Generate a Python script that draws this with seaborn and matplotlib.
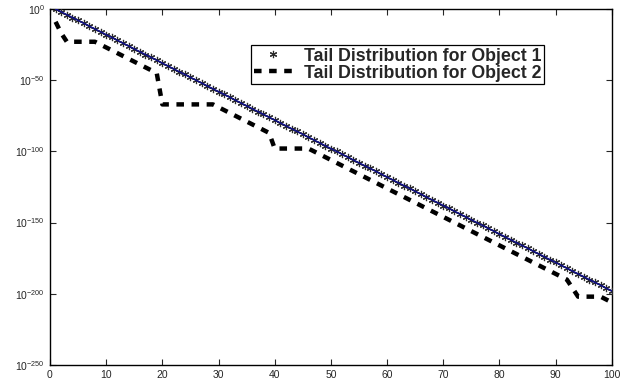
import numpy as np
import matplotlib
matplotlib.use("Agg")
import matplotlib.pyplot as plt
import seaborn as sns
from matplotlib.ticker import FixedLocator, FixedFormatter

# x positions (object size index)
x = list(range(1, 101))

# log10 of tail probability
obj1_exp = [0, -2, -4, -6, -8, -10, -12, -14, -16, -18,
            -20, -22, -24, -26, -28, -30, -32, -34, -36, -38,
            -40, -42, -44, -46, -48, -50, -52, -54, -56, -58,
            -60, -62, -64, -66, -68, -70, -72, -74, -76, -78,
            -80, -82, -84, -86, -88, -90, -92, -94, -96, -98,
            -100, -102, -104, -106, -108, -110, -112, -114, -116, -118,
            -120, -122, -124, -126, -128, -130, -132, -134, -136, -138,
            -140, -142, -144, -146, -148, -150, -152, -154, -156, -158,
            -160, -162, -164, -166, -168, -170, -172, -174, -176, -178,
            -180, -182, -184, -186, -188, -190, -192, -194, -196, -198]

obj2_exp = [-9, -17, -23, -23, -23, -23, -23, -23, -25, -27,
            -29, -31, -33, -35, -37, -39, -41, -43, -45, -67,
            -67, -67, -67, -67, -67, -67, -67, -67, -67, -69,
            -71, -73, -75, -77, -79, -81, -83, -85, -87, -98,
            -98, -98, -98, -98, -98, -98, -100, -102, -104, -106,
            -108, -110, -112, -114, -116, -118, -120, -122, -124, -126,
            -128, -130, -132, -134, -136, -138, -140, -142, -144, -146,
            -148, -150, -152, -154, -156, -158, -160, -162, -164, -166,
            -168, -170, -172, -174, -176, -178, -180, -182, -184, -186,
            -188, -190, -196, -202, -202, -202, -202, -202, -204, -206]

labels = ['Tail Distribution for Object 1', 'Tail Distribution for Object 2']
xticks = [0, 10, 20, 30, 40, 50, 60, 70, 80, 90, 100]
yexp_ticks = [-250, -200, -150, -100, -50, 0]

y1 = 10.0 ** np.array(obj1_exp, dtype=float)
y2 = 10.0 ** np.array(obj2_exp, dtype=float)

sns.set_style('ticks')
plt.rcParams['font.family'] = ['Liberation Sans', 'DejaVu Sans']
plt.rcParams['mathtext.fontset'] = 'custom'
plt.rcParams['mathtext.rm'] = 'Liberation Sans'

fig = plt.figure(figsize=(6.44, 3.86), dpi=100)
ax = fig.add_axes([0.0776, 0.0544, 0.8724, 0.9223])

# asterisks, dashed line, then the blue line through the asterisks
sns.lineplot(x=x, y=y1, ax=ax, color='black', marker=(6, 2, 0), markersize=5.2,
             markeredgewidth=0.85, markeredgecolor='#2a2a2a', linestyle='none',
             label=labels[0], zorder=3)
sns.lineplot(x=x, y=y2, ax=ax, color='black', linewidth=3.2,
             linestyle=(0, (1.7, 1.7)), label=labels[1], zorder=2)
sns.lineplot(x=x, y=y1, ax=ax, color='#10108a', linewidth=1.1, zorder=4)

ax.set_yscale('log')
ax.set_xlim(0, 100)
ax.set_ylim(1e-250, 1e0)
ax.yaxis.set_major_locator(FixedLocator([10.0 ** e for e in yexp_ticks]))
ax.yaxis.set_major_formatter(FixedFormatter([r'$\mathregular{10^{%d}}$' % e for e in yexp_ticks]))
ax.yaxis.set_minor_locator(FixedLocator([]))
ax.set_xticks(xticks)
ax.tick_params(direction='in', top=True, right=True, labelsize=7.5, length=4, width=0.8)

for s in ax.spines.values():
    s.set_visible(True)
    s.set_linewidth(1.0)
    s.set_color('black')

handles, labs = ax.get_legend_handles_labels()
leg = ax.legend(handles[:2], labs[:2], loc='upper left', bbox_to_anchor=(0.358, 0.899),
                borderaxespad=0, fancybox=False, edgecolor='black', framealpha=1,
                prop={'weight': 'bold', 'size': 12.8}, handlelength=2.2,
                borderpad=0.15, labelspacing=0.0, handletextpad=0.6)
leg.get_frame().set_linewidth(0.9)

fig.savefig('out.png', dpi=100)
